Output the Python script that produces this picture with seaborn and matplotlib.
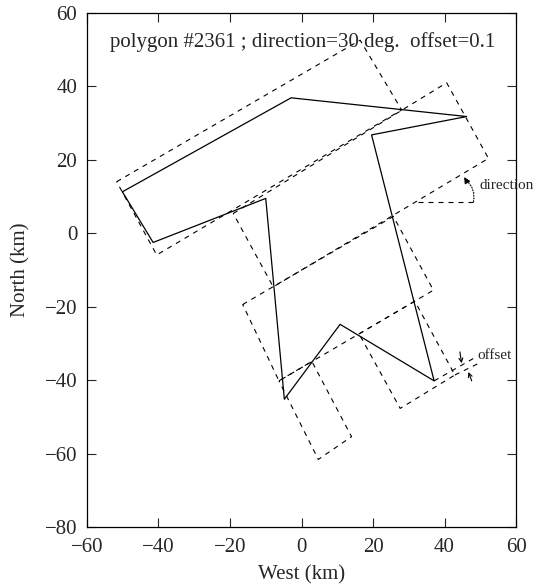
import matplotlib
matplotlib.use("Agg")
import matplotlib.pyplot as plt
import numpy as np
import pandas as pd
import seaborn as sns

# polygon outline (km), closed
poly_x = [-50.1, -2.9, 46.2, 19.6, 37.1, 10.8, -4.8, -10.0, -41.5, -50.1]
poly_y = [11.3, 36.9, 31.8, 26.8, -40.2, -24.8, -45.2, 9.5, -2.5, 11.3]

# strip rectangles (dashed), corners in order, closed
rect1_x = [-51.7, 16.4, 28.0, -40.5, -51.7]
rect1_y = [14.05, 52.6, 33.6, -5.9, 14.05]
rect2_x = [-19.1, 40.6, 52.3, -7.9, -19.1]
rect2_y = [5.4, 41.0, 20.4, -14.6, 5.4]
rect3_x = [-16.45, 25.7, 36.9, -6.3, -16.45]
rect3_y = [-19.4, 4.6, -15.5, -40.2, -19.4]
rect4_x = [-6.3, 2.9, 14.0, 4.7, -6.3]
rect4_y = [-40.2, -34.9, -55.4, -61.6, -40.2]
rect5_x = [16.1, 31.7, 42.9, 27.6, 16.1]
rect5_y = [-27.4, -18.5, -38.6, -47.7, -27.4]

# offset guide lines
off_upper_x = [37.1, 48.8]
off_upper_y = [-40.2, -33.7]
off_lower_x = [42.9, 49.4]
off_lower_y = [-38.6, -35.5]

# direction reference line
dir_x = [32.6, 49.5]
dir_y = [8.6, 8.6]

x_ticks = [-60, -40, -20, 0, 20, 40, 60]
y_ticks = [-80, -60, -40, -20, 0, 20, 40, 60]

title_text = "polygon #2361 ; direction=30 deg.  offset=0.1"

sns.set_style("ticks")
plt.rcParams['font.family'] = ['Liberation Serif', 'DejaVu Serif']

fig = plt.figure(figsize=(5.36, 5.86), dpi=100)
ax = fig.add_axes([0.1623, 0.1007, 0.8004, 0.8771])

rects = []
for i, (rx, ry) in enumerate([(rect1_x, rect1_y), (rect2_x, rect2_y), (rect3_x, rect3_y),
                              (rect4_x, rect4_y), (rect5_x, rect5_y)]):
    rects.append(pd.DataFrame({"x": rx, "y": ry, "rect": i}))
rect_df = pd.concat(rects, ignore_index=True)

dash = (0, (4.5, 4.5))
sns.lineplot(data=rect_df, x="x", y="y", units="rect", estimator=None, sort=False,
             color="black", linewidth=0.8, linestyle=dash, ax=ax)
sns.lineplot(x=poly_x, y=poly_y, sort=False, estimator=None, color="black",
             linewidth=0.9, ax=ax)

# direction annotation
ax.plot(dir_x, dir_y, color="black", linewidth=0.8, linestyle=dash)
ax.annotate("", xy=(45.9, 14.6), xytext=(48.1, 8.6),
            arrowprops=dict(arrowstyle="-", linestyle=(0, (1, 1.5)), lw=0.8,
                            color="black", connectionstyle="arc3,rad=0.3",
                            shrinkA=0, shrinkB=0))
ax.annotate("", xy=(45.5, 15.3), xytext=(46.3, 14.0),
            arrowprops=dict(arrowstyle="-|>", lw=0.8, color="black",
                            mutation_scale=9, shrinkA=0, shrinkB=0))
ax.text(49.9, 13.1, "direction", fontsize=11, va="center", ha="left")

# offset annotation
ax.plot(off_upper_x, off_upper_y, color="black", linewidth=0.8, linestyle=dash)
ax.plot(off_lower_x, off_lower_y, color="black", linewidth=0.8, linestyle=dash)
ax.annotate("", xy=(44.8, -35.4), xytext=(44.3, -32.3),
            arrowprops=dict(arrowstyle="->", lw=0.8, color="black",
                            mutation_scale=7, shrinkA=0, shrinkB=0))
ax.annotate("", xy=(46.7, -37.8), xytext=(47.6, -40.2),
            arrowprops=dict(arrowstyle="->", lw=0.8, color="black",
                            mutation_scale=7, shrinkA=0, shrinkB=0))
ax.text(49.1, -33.2, "offset", fontsize=11, va="center", ha="left")

ax.text(0.0536, 0.9436, title_text, transform=ax.transAxes, fontsize=15,
        va="center", ha="left")

ax.set_xlim(-60, 60)
ax.set_ylim(-80, 60)
ax.set_xticks(x_ticks)
ax.set_yticks(y_ticks)
ax.tick_params(direction="in", length=6.5, width=0.8, labelsize=15,
               top=True, right=True)
ax.tick_params(axis="x", pad=8)
ax.tick_params(axis="y", pad=7)
ax.set_xlabel("West (km)", fontsize=15, labelpad=6)
ax.set_ylabel("North (km)", fontsize=15, labelpad=10)
for s in ax.spines.values():
    s.set_linewidth(0.9)
    s.set_color("black")

fig.savefig("out.png", dpi=100)
